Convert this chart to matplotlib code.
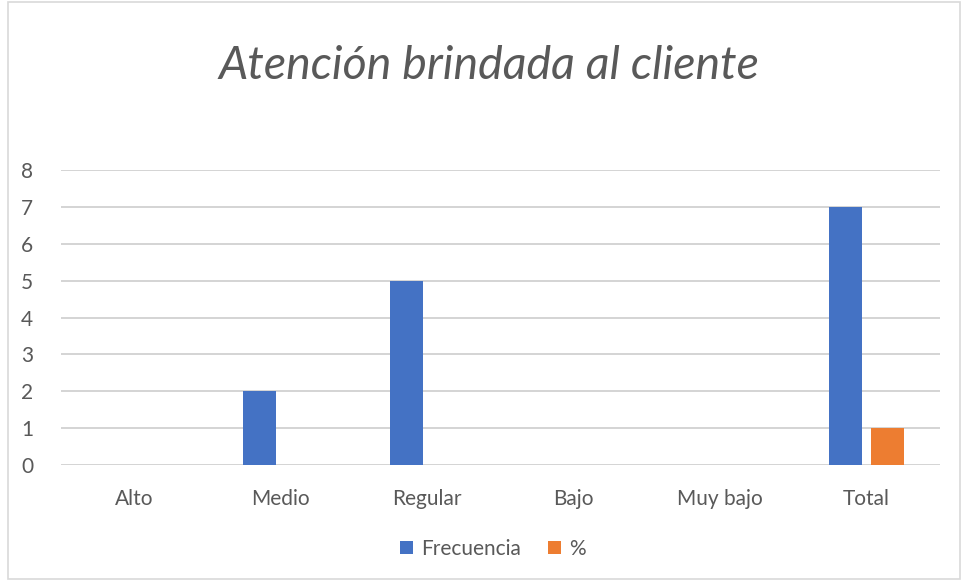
import matplotlib.pyplot as plt
import numpy as np
from matplotlib.patches import Rectangle

categories = ["Alto", "Medio", "Regular", "Bajo", "Muy bajo", "Total"]
frecuencia = [0, 2, 5, 0, 0, 7]
porcentaje = [0, 0, 0, 0, 0, 1]

plt.rcParams['font.family'] = ['Lato', 'DejaVu Sans']
gray = '#595959'

fig = plt.figure(figsize=(9.62, 5.81), dpi=100)
fig.patches.append(Rectangle((8 / 962, 2 / 581), 952 / 962, 577 / 581, transform=fig.transFigure,
                             fill=False, edgecolor='#d9d9d9', linewidth=1.2))
ax = fig.add_axes([61 / 962, 1 - 465 / 581, 879 / 962, 295 / 581])

x = np.arange(len(categories))
w = 0.225
ax.bar(x - 0.143, frecuencia, w, color='#4472c4', label='Frecuencia', zorder=3)
ax.bar(x + 0.143, porcentaje, w, color='#ed7d31', label='%', zorder=3)

ax.set_xlim(-0.5, len(categories) - 0.5)
ax.set_ylim(0, 8)
ax.set_yticks(range(0, 9))
ax.set_xticks(x)
ax.set_xticklabels(categories)
ax.grid(axis='y', color='#d4d4d4', linewidth=1.4, zorder=0)
for s in ax.spines.values():
    s.set_visible(False)
ax.tick_params(length=0, labelsize=15, colors=gray)
ax.tick_params(axis='x', pad=17)
ax.tick_params(axis='y', pad=20)

fig.text(489 / 962, 1 - 66 / 581, "Atención brindada al cliente", ha='center', va='center',
         fontsize=33.5, style='italic', color=gray)

fig.legend(loc='center', bbox_to_anchor=(493 / 962, 1 - 549 / 581), ncol=2, frameon=False,
           fontsize=15, labelcolor=gray, handlelength=0.6, handleheight=0.6,
           handletextpad=0.4, columnspacing=1.3)

fig.savefig("out.png", dpi=100)
